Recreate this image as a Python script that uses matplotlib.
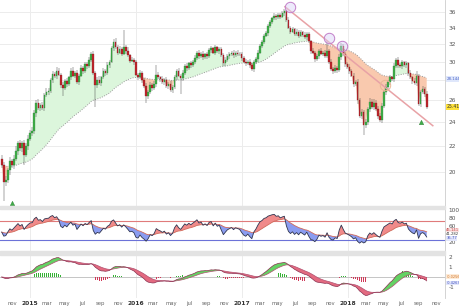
import numpy as np
import pandas as pd
import matplotlib
matplotlib.use('Agg')
import matplotlib.pyplot as plt
import matplotlib.transforms as mtransforms
from matplotlib.patches import Rectangle

# === weekly candles, sep 2014 -> sep 2018 ===
first_open = 21.0
close = [
    20.5, 19.3, 19.4, 20.1, 20.8, 20.5, 21.0, 21.6, 22.2, 21.8,
    22.2, 21.3, 22.0, 22.6, 23.1, 23.2, 24.8, 25.8, 25.3, 25.6,
    25.3, 26.5, 26.8, 26.9, 28.0, 28.7, 28.4, 29.0, 28.6, 27.5,
    27.2, 27.9, 27.6, 28.3, 29.0, 28.5, 28.8, 27.8, 28.5, 29.3,
    29.0, 29.7, 29.5, 30.2, 30.9, 28.8, 27.5, 28.0, 27.7, 28.3,
    29.0, 28.8, 29.6, 30.0, 31.5, 32.2, 31.6, 31.0, 31.4, 30.9,
    31.6, 31.2, 30.7, 30.1, 30.2, 29.9, 28.6, 28.3, 28.8, 28.0,
    27.4, 26.4, 26.8, 27.5, 27.2, 27.6, 28.6, 28.3, 28.1, 27.8,
    28.0, 27.4, 27.6, 27.0, 27.3, 28.3, 29.0, 28.5, 28.2, 28.8,
    29.5, 29.3, 29.8, 29.6, 30.0, 30.4, 31.0, 30.6, 30.9, 30.5,
    30.8, 30.6, 31.3, 31.5, 31.0, 31.6, 31.2, 31.4, 30.7, 29.8,
    30.2, 30.6, 30.8, 31.0, 30.7, 31.0, 30.9, 30.8, 30.4, 30.0,
    29.8, 30.0, 29.6, 29.2, 29.9, 30.3, 31.0, 31.8, 32.2, 33.0,
    33.3, 34.2, 34.7, 35.2, 35.5, 35.3, 35.6, 35.4, 35.8, 36.1,
    35.0, 34.0, 33.5, 33.8, 33.2, 33.5, 33.0, 33.4, 33.1, 32.8,
    33.2, 32.3, 31.2, 31.0, 30.3, 30.6, 31.2, 30.9, 31.0, 30.6,
    31.2, 30.0, 29.2, 29.0, 29.3, 29.1, 30.5, 31.8, 30.8, 29.7,
    29.4, 29.0, 28.5, 27.6, 27.8, 26.0, 24.6, 24.9, 23.8, 24.0,
    25.2, 25.9, 25.4, 25.8, 25.2, 24.6, 24.2, 25.5, 26.8, 27.3,
    27.8, 28.3, 28.1, 29.5, 30.2, 29.6, 29.5, 29.9, 29.6, 29.8,
    28.8, 28.3, 27.9, 27.7, 28.4, 25.7, 26.8, 27.1, 26.6, 25.41,
]
upper_wick = [
    .3, .2, .3, .2, .3, .2, .3, .4, .2, .3,
    .2, .3, .2, .3, .2, .4, .3, .2, .3, .2,
    .3, .2, .4, .3, .2, .3, .2, .4, .3, .2,
    .3, .2, .3, .2, .3, .4, .2, .3, .2, .3,
    .2, .3, .2, .3, .2, .3, .2, .3, .4, .2,
    .3, .2, .3, .2, .3, .4, .5, .3, .4, .3,
    2.1, .3, .4, .2, .3, .2, .3, .2, .3, .2,
    .2, .3, .2, .3, .2, .3, 1.0, .3, .2, .3,
    .2, .3, .2, .3, .2, .3, .2, .3, .2, .3,
    .2, .3, .2, .3, .2, .3, .2, .3, .2, .3,
    .2, .3, .2, .3, .2, .3, .2, .3, .2, .3,
    .3, .2, .3, .2, .3, .2, .3, .2, .3, .2,
    .3, .2, .3, .2, .3, .2, .3, .2, .3, .2,
    .3, .2, .3, .2, .3, .2, .3, .2, .3, .3,
    .2, .3, .2, .3, .2, .3, .2, .3, .2, .3,
    .2, .3, .2, .3, .2, .3, .2, .3, .2, .3,
    1.1, .2, .3, .2, .3, .2, .3, .3, .2, .3,
    .2, .3, .2, .3, .2, .3, .2, .3, .2, .3,
    .2, .3, .2, .3, .2, .3, .2, .3, .2, .3,
    .2, .3, .2, .3, .2, .3, .2, .3, .2, .3,
    .2, .3, .2, .3, .6, .3, .2, .3, .2, .3,
]
lower_wick = [
    .2, 1.3, .3, .2, .3, .2, .3, .2, .3, .2,
    .3, .8, .2, .3, .2, .3, .2, .3, .2, .3,
    .2, .3, .2, .3, .2, .3, .2, .3, .2, .3,
    .8, .2, .3, .2, .3, .2, .3, .2, .3, .2,
    .3, .2, .3, .2, .3, .2, 2.1, .3, .2, .3,
    .2, .3, .2, .3, .2, .3, .2, .3, .2, .3,
    .2, .3, .2, .3, .2, .3, .2, .3, .2, .3,
    .2, .6, .3, .2, .3, .2, .3, .2, .3, .2,
    .3, .2, .3, .2, .3, .2, .3, .2, 1.6, .3,
    .2, .3, .2, .3, .2, .3, .2, .3, .2, .3,
    .2, .3, .2, .3, .2, .3, .2, .3, .2, .3,
    .3, .2, .3, .2, .3, .2, .3, .2, .3, .2,
    .3, .2, .3, .2, .3, .2, .3, .2, .3, .2,
    .2, .3, .2, .3, .2, .3, .2, .3, .2, .3,
    .3, .2, .3, .2, .3, .2, .3, .2, .3, .2,
    .3, .2, .3, .2, .3, .2, .3, .2, .3, .2,
    .2, .3, .2, .3, .2, .3, .2, .3, .2, .3,
    .2, .3, .2, .3, .2, .3, .2, .3, .9, .3,
    .2, .3, .2, .3, .2, .3, .2, .3, .2, .3,
    .2, .3, .2, .3, .2, .3, .2, .3, .2, .3,
    .3, .2, .3, .2, .3, .2, .3, .2, .3, .2,
]

# trendline + touch circles + signal arrows
trend_dates = ['2017-05-28', '2018-10-19']
trend_prices = [36.7, 23.7]
touch_dates = ['2017-06-14', '2017-10-26', '2017-12-10']
touch_prices = [36.7, 32.7, 31.8]
cross_date = '2018-05-08'
cross_price = 27.5
arrow_dates = ['2014-10-31', '2018-09-07']
arrow_prices = [17.85, 24.0]

# 28 / 40 / 0 stanno sotto le etichette colorate
price_ticks = [20, 22, 24, 26, 30, 32, 34, 36]
grid_prices = [20, 22, 24, 26, 28, 30, 32, 34, 36]
rsi_ticks = [20, 60, 80, 100]
macd_ticks = [-1, 1, 2]
ma_label, last_label = '28.144', '25.41'
rsi_labels = ['45.141', '41.282', '35.77']
macd_labels = ['-0.0256', '-0.4263']

# === indicatori ===
dates = pd.date_range('2014-09-26', periods=len(close), freq='7D')
c = pd.Series(close, index=dates)
o = pd.Series([first_open] + close[:-1], index=dates)
hi = np.maximum(o, c) + np.array(upper_wick)
lo = np.minimum(o, c) - np.array(lower_wick)
ma = c.ewm(span=52, adjust=False).mean()

# RSI di Wilder (seed neutro)
n_rsi = 8
g, l = 0.3, 0.3
rsi_vals = []
prev = first_open
for v in close:
    d = v - prev
    g = (g * (n_rsi - 1) + max(d, 0)) / n_rsi
    l = (l * (n_rsi - 1) + max(-d, 0)) / n_rsi
    rsi_vals.append(100 - 100 / (1 + g / l))
    prev = v
rsi = pd.Series(rsi_vals, index=dates)
rsi_sig = rsi.ewm(span=14, adjust=False).mean()

macd = c.ewm(span=12, adjust=False).mean() - c.ewm(span=26, adjust=False).mean()
macd_sig = macd.ewm(span=9, adjust=False).mean()
hist = macd - macd_sig

# === figura ===
W, H = 460, 308
fig = plt.figure(figsize=(W / 100, H / 100), dpi=100)
def box(top, bottom):
    return [0, 1 - bottom / H, 445 / W, (bottom - top) / H]
ax = fig.add_axes(box(0, 206))
ax_rsi = fig.add_axes(box(209, 251), sharex=ax)
ax_macd = fig.add_axes(box(255, 298), sharex=ax)

for top, bottom in [(206, 209), (251, 255)]:
    fig.patches.append(Rectangle((0, 1 - bottom / H), 445 / W, (bottom - top) / H,
                                 transform=fig.transFigure, color='#e3e3e3', zorder=0))

grid_c = '#ececec'
year_lines = pd.to_datetime(['2015-01-01', '2016-01-01', '2017-01-01', '2018-01-01'])
for a in (ax, ax_rsi, ax_macd):
    for s in ['left', 'top', 'bottom']:
        a.spines[s].set_visible(False)
    a.spines['right'].set_color('#cccccc')
    a.spines['right'].set_linewidth(0.6)
    a.yaxis.tick_right()
    a.tick_params(axis='y', length=0, labelsize=4.2, labelcolor='#555555', pad=2.5)
    a.tick_params(axis='x', length=0)
    for d in year_lines:
        a.axvline(d, color=grid_c, lw=0.7, zorder=0)

# --- prezzo ---
ax.set_yscale('log')
ax.set_ylim(17.64, 37.62)
ax.yaxis.set_minor_locator(matplotlib.ticker.NullLocator())
ax.set_yticks(price_ticks)
ax.set_yticklabels([str(t) for t in price_ticks])
for t in grid_prices:
    ax.axhline(t, color=grid_c, lw=0.7, zorder=0)

ax.fill_between(dates, c, ma, where=(c >= ma), interpolate=True, color='#dcf6dc', lw=0, zorder=1)
ax.fill_between(dates, c, ma, where=(c < ma), interpolate=True, color='#f9c9ae', lw=0, zorder=1)
ax.plot(dates, ma, color='#9a9a9a', lw=0.7, ls=(0, (1, 1.5)), zorder=2)

up = c >= o
body_w = 5.6
ax.vlines(dates, lo, hi, color='#4a4a4a', lw=0.35, zorder=3)
ax.bar(dates[up], (c - o)[up], bottom=o[up], width=body_w, color='#3fae49',
       edgecolor='#2c7f33', linewidth=0.2, zorder=4)
ax.bar(dates[~up], (o - c)[~up], bottom=c[~up], width=body_w, color='#c0262d',
       edgecolor='#7a1518', linewidth=0.2, zorder=4)

ax.plot(pd.to_datetime(trend_dates), trend_prices, color='#e8a2a6', lw=1.1, zorder=5)
ax.plot(pd.to_datetime(touch_dates), touch_prices, 'o', ms=7.5, mfc=(0.85, 0.82, 0.97, 0.45),
        mec='#c27fc9', mew=0.7, zorder=6)
ax.plot(pd.to_datetime([cross_date]), [cross_price], 'o', ms=7.5, mfc='none',
        mec='#e9b896', mew=0.7, zorder=6)
ax.plot(pd.to_datetime(arrow_dates), arrow_prices, '^', ms=3.2, color='#3fae49',
        mec='#2a7a30', mew=0.3, zorder=6, clip_on=False)

yx = mtransforms.blended_transform_factory(ax.transAxes, ax.transData)
ax.text(1.003, 28.144, ma_label, transform=yx, fontsize=2.9, color='#4a63c8', va='center',
        bbox=dict(boxstyle='square,pad=0.15', fc='#dfe7fb', ec='none'))
ax.text(1.003, 25.41, last_label, transform=yx, fontsize=3.3, color='#333333', va='center',
        bbox=dict(boxstyle='square,pad=0.15', fc='#ffe23a', ec='none'))

# --- RSI ---
ax_rsi.set_ylim(-2.5, 102.5)
ax_rsi.set_yticks(rsi_ticks)
ax_rsi.set_yticklabels([str(t) for t in rsi_ticks])
ax_rsi.axhline(73, color='#e07b7b', lw=0.8, zorder=1)
ax_rsi.axhline(25, color='#6c72d8', lw=0.8, zorder=1)
ax_rsi.fill_between(dates, rsi, rsi_sig, where=(rsi >= rsi_sig), interpolate=True,
                    color='#f08a8a', lw=0, zorder=2)
ax_rsi.fill_between(dates, rsi, rsi_sig, where=(rsi < rsi_sig), interpolate=True,
                    color='#8a9cf0', lw=0, zorder=2)
ax_rsi.plot(dates, rsi_sig, color='#d06a5a', lw=0.6, zorder=3)
ax_rsi.plot(dates, rsi, color='#2f3550', lw=0.6, zorder=4)
ry = mtransforms.blended_transform_factory(ax_rsi.transAxes, ax_rsi.transData)
for val, txt, fc, tc in [(49, rsi_labels[0], '#fbe3e3', '#c04040'),
                         (39, rsi_labels[1], '#ffffff', '#333333'),
                         (29, rsi_labels[2], '#e2e6fb', '#4050c0')]:
    ax_rsi.text(1.003, val, txt, transform=ry, fontsize=2.7, color=tc, va='center',
                bbox=dict(boxstyle='square,pad=0.08', fc=fc, ec='none'))

# --- MACD ---
ax_macd.set_ylim(-2.1, 2.2)
ax_macd.set_yticks(macd_ticks)
ax_macd.set_yticklabels([str(t) for t in macd_ticks])
ax_macd.axhline(0, color='#bbbbbb', lw=0.6, zorder=1)
ax_macd.bar(dates[hist >= 0], hist[hist >= 0], width=1.6, color='#35b235', zorder=2)
ax_macd.bar(dates[hist < 0], hist[hist < 0], width=1.6, color='#d03858', zorder=2)
ax_macd.fill_between(dates, macd, macd_sig, where=(macd >= macd_sig), interpolate=True,
                     color='#63d263', lw=0, zorder=3)
ax_macd.fill_between(dates, macd, macd_sig, where=(macd < macd_sig), interpolate=True,
                     color='#e36a80', lw=0, zorder=3)
ax_macd.plot(dates, macd_sig, color='#b05070', lw=0.5, zorder=4)
ax_macd.plot(dates, macd, color='#8a3050', lw=0.5, zorder=4)
my = mtransforms.blended_transform_factory(ax_macd.transAxes, ax_macd.transData)
ax_macd.text(1.003, 0.05, macd_labels[0], transform=my, fontsize=2.5, color='#d07020', va='center',
             bbox=dict(boxstyle='square,pad=0.08', fc='#fdebd8', ec='none'))
ax_macd.text(1.003, -0.62, macd_labels[1], transform=my, fontsize=2.5, color='#4050c0', va='center',
             bbox=dict(boxstyle='square,pad=0.08', fc='#e2e6fb', ec='none'))

# --- asse x ---
ax.set_xlim(pd.Timestamp('2014-09-20'), pd.Timestamp('2018-11-30'))
xt = pd.date_range('2014-11-01', '2018-11-01', freq='2MS')
ax_macd.set_xticks(xt)
ax_macd.set_xticklabels([str(d.year) if d.month == 1 else d.strftime('%b').lower() for d in xt])
for lab, d in zip(ax_macd.get_xticklabels(), xt):
    lab.set_fontsize(4.3 if d.month == 1 else 3.8)
    lab.set_fontweight('bold' if d.month == 1 else 'normal')
    lab.set_color('#333333' if d.month == 1 else '#666666')
ax_macd.tick_params(axis='x', pad=2)
for a in (ax, ax_rsi):
    plt.setp(a.get_xticklabels(), visible=False)

fig.savefig('out.png', dpi=100)
